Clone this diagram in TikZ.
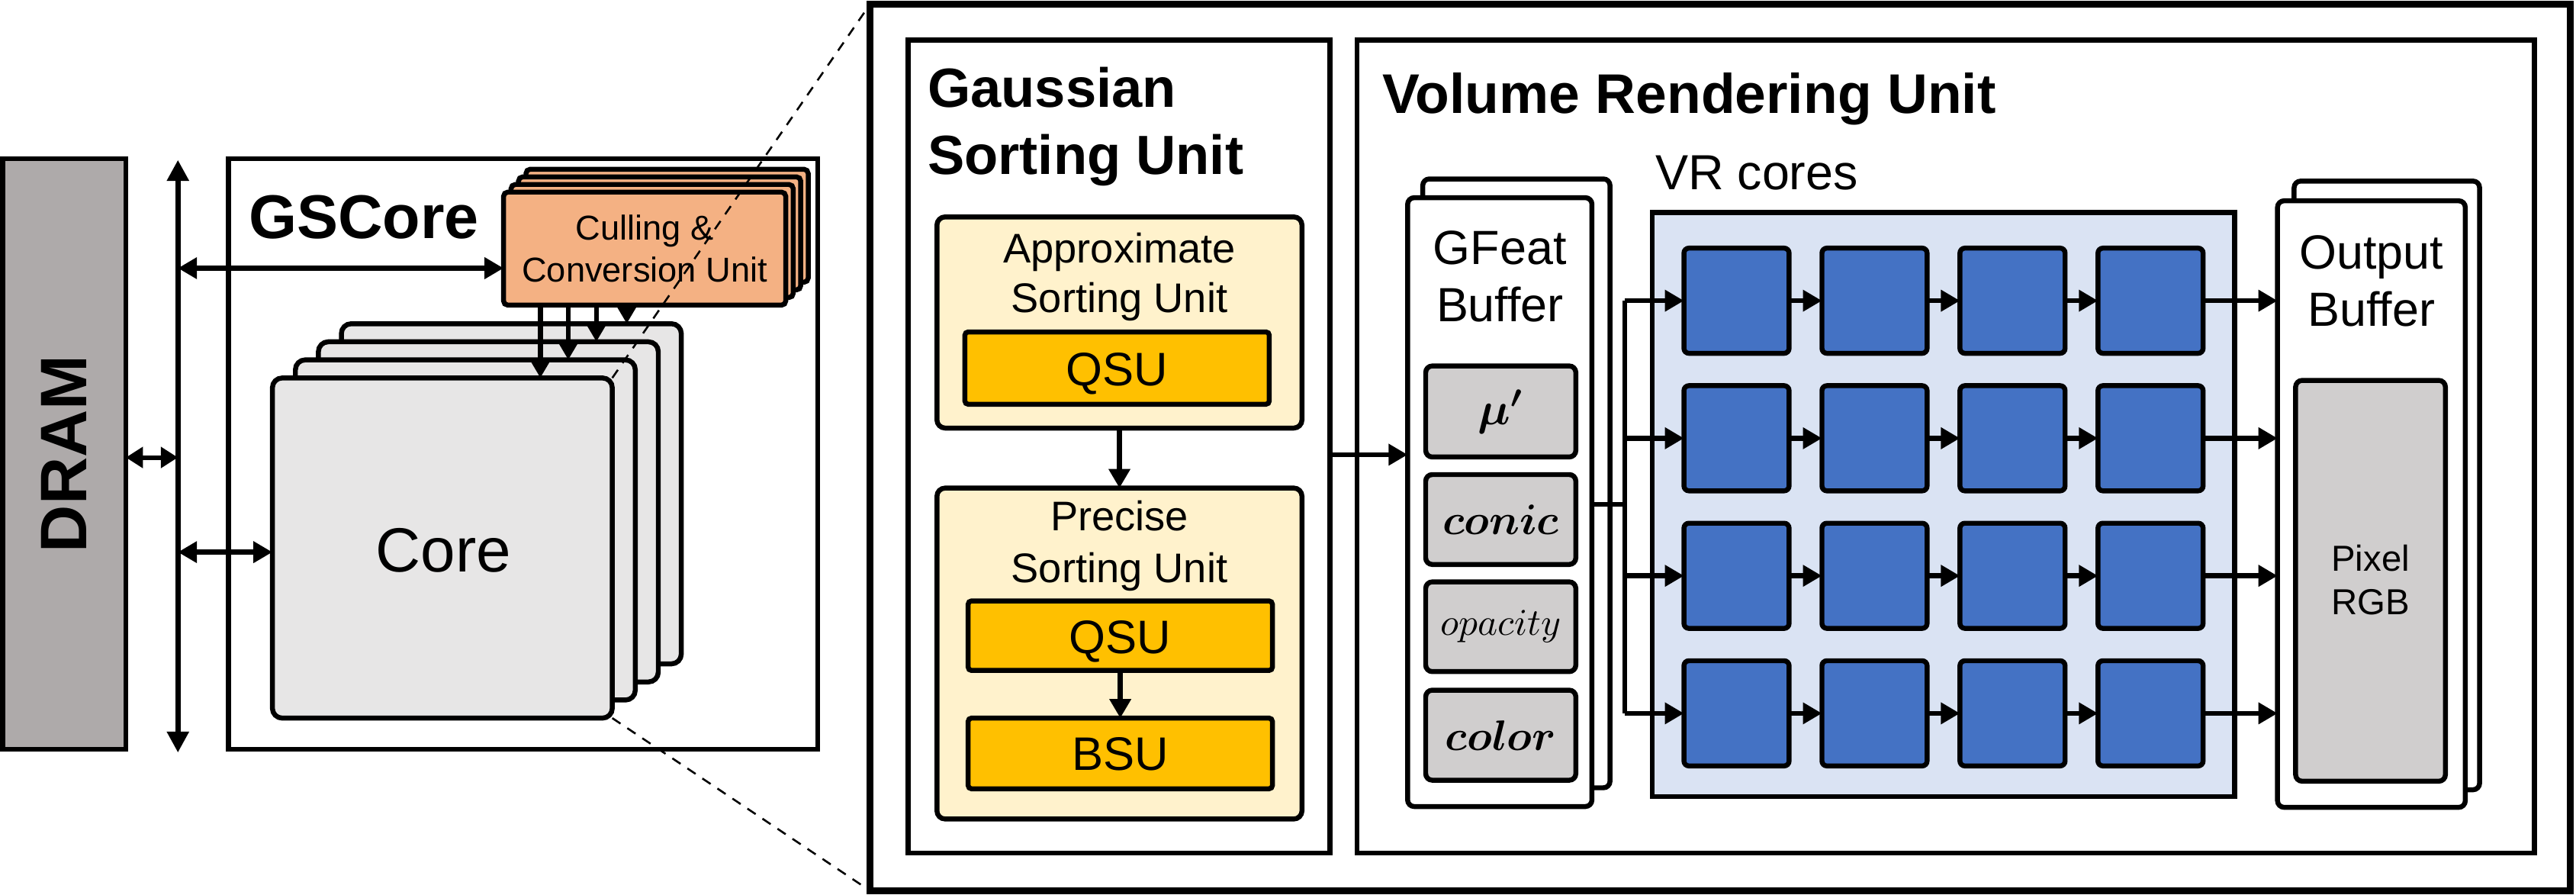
\RequirePackage{fix-cm}
\documentclass[tikz,border=0pt]{standalone}
\usepackage{amsmath}
\usepackage{fontspec}
\setmainfont{Liberation Sans}
\usetikzlibrary{fit,arrows.meta,calc}
\definecolor{dramgray}{HTML}{AEAAAA}
\definecolor{coregray}{HTML}{E7E6E6}
\definecolor{ccuorange}{HTML}{F4B183}
\definecolor{lightyellow}{HTML}{FFF2CC}
\definecolor{goldbox}{HTML}{FFC000}
\definecolor{lightblue}{HTML}{DAE3F3}
\definecolor{cellblue}{HTML}{4472C4}
\definecolor{featgray}{HTML}{D0CECE}
\tikzset{
  box/.style={draw=black, line width=1.5pt, inner sep=0pt, outer sep=0pt},
  lbl/.style={inner sep=0pt, outer sep=0pt, anchor=base},
  lblw/.style={inner sep=0pt, outer sep=0pt, anchor=base west},
  tipa/.tip={Triangle[length=5.8pt 0 0,width=6.3pt 0 0]},
  tipb/.tip={Triangle[length=6.4pt 0 0,width=6.4pt 0 0]},
  tipc/.tip={Triangle[length=5.2pt 0 0,width=6.2pt 0 0]},
  arr/.style={line width=1.5pt, -tipa},
  dblarr/.style={line width=1.5pt, tipa-tipa},
  busarr/.style={line width=1.7pt, tipb-tipb},
  smalldbl/.style={line width=1.4pt, tipc-tipc},
  wire/.style={line width=1.5pt},
  dashline/.style={line width=0.6pt, dash pattern=on 3pt off 2.5pt},
}
\begin{document}
\begin{tikzpicture}[x=0.5pt,y=-0.5pt]
\useasboundingbox (0,0) rectangle (1568,544.6);

% ---------------- left: DRAM, bus, GSCore ----------------
\node[box, fill=dramgray, fit={(1.7,96.5) (76.6,456)}] (dram) {};
\node[inner sep=0pt, rotate=90, font=\bfseries\fontsize{20}{23}\selectfont] (dramtxt) at (dram.center) {DRAM};

\coordinate (bustop) at (108.3,97.3);
\coordinate (busbot) at (108.3,458);
\draw[busarr] (bustop) -- (busbot);

\node[box, fit={(139,96.5) (497.8,456)}] (gscore) {};
\node[lblw, font=\bfseries\fontsize{18.8}{22}\selectfont] (gstxt) at (151.5,145) {GSCore};

% Culling & Conversion Unit stack
\foreach \i in {3,2,1}{
  \node[box, fill=ccuorange, rounded corners=1.3pt, fit={(306.5+4.55*\i,116.9-4.64*\i) (478.3+4.55*\i,185.7-4.64*\i)}] (ccu\i) {};
}
\node[box, fill=ccuorange, rounded corners=1.3pt, fit={(306.5,116.9) (478.3,185.7)}] (ccu0) {};
\node[lbl, font=\fontsize{10.5}{12}\selectfont] (ccut1) at (392.4,146) {Culling \&};
\node[lbl, font=\fontsize{10.5}{12}\selectfont] (ccut2) at (392.4,171.5) {Conversion Unit};

% Core stack
\foreach \i in {3,2,1}{
  \node[box, fill=coregray, rounded corners=3pt, fit={(165.8+14*\i,230-11*\i) (372.7+14*\i,437-11*\i)}] (core\i) {};
}
\node[box, fill=coregray, rounded corners=3pt, fit={(165.8,230) (372.7,437)}] (core0) {};
\node[lbl, font=\fontsize{19}{22}\selectfont] (coretxt) at (270,348) {Core};

% CCU -> cores
\coordinate (ca0) at ($(ccu0.south west)+(22.4,0)$);
\coordinate (ca1) at ($(ccu0.south west)+(39.4,0)$);
\coordinate (ca2) at ($(ccu0.south west)+(56.5,0)$);
\coordinate (ca3) at ($(ccu0.south west)+(75,0)$);
\draw[arr] (ca0) -- (ca0 |- core0.north);
\draw[arr] (ca1) -- (ca1 |- core1.north);
\draw[arr] (ca2) -- (ca2 |- core2.north);
\draw[arr] (ca3) -- (ca3 |- core3.north);

% bus connections
\coordinate (busccu) at (108.3,163.2);
\coordinate (buscore) at (108.3,336);
\coordinate (busdram) at (108.3,278.4);
\draw[dblarr] (busccu) -- (busccu -| ccu0.west);
\draw[dblarr] (buscore) -- (buscore -| core0.west);
\draw[smalldbl] (dram.east |- busdram) -- (busdram);

% ---------------- right: big box ----------------
\node[box, line width=2pt, fit={(529.5,2.7) (1564.5,542)}] (big) {};

% Gaussian Sorting Unit
\node[box, fit={(552.8,24.3) (809.6,519)}] (gsu) {};
\node[lblw, font=\bfseries\fontsize{16.8}{20}\selectfont] (gsut1) at (564.7,65.3) {Gaussian};
\node[lblw, font=\bfseries\fontsize{16.8}{20}\selectfont] (gsut2) at (564.7,106) {Sorting Unit};

\node[box, rounded corners=2.5pt, fill=lightyellow, fit={(570.3,132) (792.5,260.5)}] (asu) {};
\node[lbl, font=\fontsize{12.6}{15}\selectfont] (asut1) at (681.4,160) {Approximate};
\node[lbl, font=\fontsize{12.6}{15}\selectfont] (asut2) at (681.4,190) {Sorting Unit};
\node[box, rounded corners=1pt, fill=goldbox, fit={(587.3,202) (772.6,246)}] (qsua) {};
\node[lbl, font=\fontsize{14.3}{17}\selectfont] (qsuat) at (qsua.center |- 0,234.5) {QSU};

\node[box, rounded corners=2.5pt, fill=lightyellow, fit={(570.3,297) (792.5,498.4)}] (psu) {};
\node[lbl, font=\fontsize{12.6}{15}\selectfont] (psut1) at (681.4,323) {Precise};
\node[lbl, font=\fontsize{12.6}{15}\selectfont] (psut2) at (681.4,354.3) {Sorting Unit};
\node[box, rounded corners=1pt, fill=goldbox, fit={(589.3,365.7) (774.5,408)}] (qsub) {};
\node[lbl, font=\fontsize{14.3}{17}\selectfont] (qsubt) at (qsub.center |- 0,397.5) {QSU};
\node[box, rounded corners=1pt, fill=goldbox, fit={(589.3,437) (774.5,480)}] (bsu) {};
\node[lbl, font=\fontsize{14.3}{17}\selectfont] (bsut) at (bsu.center |- 0,468.5) {BSU};

\draw[arr] (asu.south) -- (psu.north);
\draw[arr] (qsub.south) -- (bsu.north);

% Volume Rendering Unit
\node[box, fit={(826,24.3) (1542.6,519)}] (vru) {};
\node[lblw, font=\bfseries\fontsize{17}{20}\selectfont] (vrut) at (841.5,68.9) {Volume Rendering Unit};

% GFeat buffer
\node[box, fill=white, rounded corners=2pt, fit={(866,108.9) (980,479.4)}] (gfeat1) {};
\node[box, fill=white, rounded corners=2pt, fit={(856.8,120.3) (969,490.8)}] (gfeat0) {};
\node[lbl, font=\fontsize{14.6}{17}\selectfont] (gft1) at (913,160.9) {GFeat};
\node[lbl, font=\fontsize{14.6}{17}\selectfont] (gft2) at (913,195.5) {Buffer};
\node[box, fill=featgray, rounded corners=2pt, fit={(867.8,222.7) (959.2,278.1)}] (fmu) {};
\node[box, fill=featgray, rounded corners=2pt, fit={(867.8,288.8) (959.2,343.5)}] (fconic) {};
\node[box, fill=featgray, rounded corners=2pt, fit={(867.8,354.1) (959.2,408.7)}] (fopac) {};
\node[box, fill=featgray, rounded corners=2pt, fit={(867.8,420) (959.2,474.8)}] (fcolor) {};
\node[inner sep=0pt, font=\fontsize{14}{16}\selectfont] (fmut) at (fmu.center) {$\boldsymbol{\mu'}$};
\node[inner sep=0pt, font=\fontsize{13}{15}\selectfont] (fconict) at (fconic.center) {$\boldsymbol{conic}$};
\node[inner sep=0pt, font=\fontsize{11.5}{14}\selectfont] (fopact) at (fopac.center) {$opacity$};
\node[inner sep=0pt, font=\fontsize{13}{15}\selectfont] (fcolort) at (fcolor.center) {$\boldsymbol{color}$};

% GSU -> GFeat
\coordinate (gin) at (830,276.7);
\draw[arr] (gsu.east |- gin) -- (gfeat0.west |- gin);

% VR cores
\node[lblw, font=\fontsize{15}{18}\selectfont] (vrct) at (1007.6,115.3) {VR cores};
\node[box, fill=lightblue, fit={(1005.6,129.4) (1360.3,484.7)}] (vrbox) {};
\foreach \r in {1,2,3,4}{
  \foreach \c in {1,2,3,4}{
    \node[box, fill=cellblue, rounded corners=1.5pt,
      fit={(1025+84*\c-84,151+83.7*\r-83.7) (1089+84*\c-84,215+83.7*\r-83.7)}] (cell\r\c) {};
  }
}

% Output buffer
\node[box, fill=white, rounded corners=2pt, fit={(1396.4,110.2) (1509.3,480.6)}] (outb1) {};
\node[box, fill=white, rounded corners=2pt, fit={(1386.3,122.2) (1500.6,491.3)}] (outb0) {};
\node[lbl, font=\fontsize{14.6}{17}\selectfont] (obt1) at (1443.4,163.5) {Output};
\node[lbl, font=\fontsize{14.6}{17}\selectfont] (obt2) at (1443.4,198.7) {Buffer};
\node[box, fill=featgray, rounded corners=2pt, fit={(1397.3,231.5) (1488.5,475.4)}] (pix) {};
\node[lbl, font=\fontsize{11}{13}\selectfont] (pixt1) at (1442.9,347.4) {Pixel};
\node[lbl, font=\fontsize{11}{13}\selectfont] (pixt2) at (1442.9,374.1) {RGB};

% branch from GFeat to VR core rows
\coordinate (br) at (989,307);
\draw[wire] (gfeat0.east |- br) -- (br);
\draw[wire] (br |- cell11.west) -- (br |- cell41.west);
\foreach \r in {1,2,3,4}{
  \draw[arr] (br |- cell\r1.west) -- (cell\r1.west);
  \draw[arr] (cell\r1.east) -- (cell\r2.west);
  \draw[arr] (cell\r2.east) -- (cell\r3.west);
  \draw[arr] (cell\r3.east) -- (cell\r4.west);
  \draw[arr] (cell\r4.east) -- (cell\r4.east -| outb0.west);
}

% zoom dashed lines
\draw[dashline] (core0.north east) -- (big.north west);
\draw[dashline] (core0.south east) -- (big.south west);
\end{tikzpicture}
\end{document}
